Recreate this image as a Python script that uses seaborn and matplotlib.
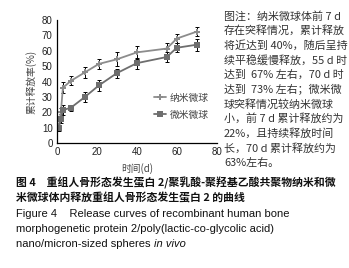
# Release curves of rhBMP-2/PLGA nano and micro spheres in vivo
import pandas as pd
import numpy as np
import matplotlib
matplotlib.use('Agg')
import matplotlib.pyplot as plt
import seaborn as sns

# values
days = [1, 2, 3, 7, 14, 21, 30, 40, 55, 60, 70]
nano = [11, 20, 36, 40.5, 46, 51.5, 54.5, 59, 61.5, 68, 72.5]
nano_err = [2, 3, 3.5, 3, 3.5, 3.5, 4.5, 4, 3.5, 3, 3]
micro = [10, 16, 21.5, 23, 30, 37.5, 45.5, 52, 56, 62, 64]
micro_err = [2, 3, 3, 2, 3.5, 3.5, 3, 3.5, 3.5, 3, 4]
series_names = ['纳米微球', '微米微球']

note_lines = [
    '图注：纳米微球体前 7 d',
    '存在突释情况，累计释放',
    '将近达到 40%，随后呈持',
    '续平稳缓慢释放，55 d 时',
    '达到  67% 左右，70 d 时',
    '达到  73% 左右；微米微',
    '球突释情况较纳米微球',
    '小，前 7 d 累计释放约为',
    '22%，且持续释放时间',
    '长，70 d 累计释放约为',
    '63%左右。',
]

cjk = ['Noto Sans CJK SC', 'DejaVu Sans']
latin = ['Liberation Sans', 'DejaVu Sans']

sns.set_style('white')
plt.rcParams['font.family'] = cjk

df = pd.DataFrame({
    'day': days * 2,
    'value': nano + micro,
    'group': [series_names[0]] * len(days) + [series_names[1]] * len(days),
})

fig = plt.figure(figsize=(3.49, 2.68), dpi=100)
ax = fig.add_axes([0.163, 0.466, 0.458, 0.459])

palette = {series_names[0]: '#8c8c8c', series_names[1]: '#6e6e6e'}
sns.lineplot(data=df, x='day', y='value', hue='group', style='group',
             markers={series_names[0]: 'P', series_names[1]: 's'}, dashes=False,
             palette=palette, markersize=4.5, markeredgewidth=0, linewidth=1.3,
             ax=ax)
ax.errorbar(days, nano, yerr=nano_err, fmt='none', ecolor='black',
            elinewidth=0.7, capsize=1.5, capthick=0.7, zorder=1)
ax.errorbar(days, micro, yerr=micro_err, fmt='none', ecolor='black',
            elinewidth=0.7, capsize=1.5, capthick=0.7, zorder=1)

ax.set_xlim(0, 80)
ax.set_ylim(0, 80)
ax.set_xticks(np.arange(0, 81, 20))
ax.set_yticks(np.arange(0, 81, 10))
ax.tick_params(axis='both', labelsize=7, length=0, pad=3)
for lab in ax.get_xticklabels() + ax.get_yticklabels():
    lab.set_family(latin)
    lab.set_color('#222222')
sns.despine(ax=ax)
ax.spines['left'].set_color('black')
ax.spines['bottom'].set_color('black')
ax.spines['left'].set_linewidth(0.9)
ax.spines['bottom'].set_linewidth(0.9)
ax.set_xlabel('时间(d)', fontsize=7, color='#444444', labelpad=4)
ax.set_ylabel('累计释放率(%)', fontsize=7, color='#444444', labelpad=4)

ax.legend(loc='center left', bbox_to_anchor=(0.55, 0.30), frameon=False,
          fontsize=7, handlelength=1.3, handletextpad=0.4, labelspacing=0.7,
          labelcolor='#444444')

# annotation block on the right
y0 = 268 - 16
for i, line in enumerate(note_lines):
    fig.text(224 / 349, (y0 - i * 14.7) / 268, line, fontsize=7.9,
             color='#333333', va='center', ha='left', family=cjk)

# caption
fig.text(16 / 349, (268 - 183) / 268,
         '图 4　重组人骨形态发生蛋白 2/聚乳酸-聚羟基乙酸共聚物纳米和微',
         fontsize=7.8, fontweight='bold', color='#111111', va='center', family=cjk)
fig.text(16 / 349, (268 - 198) / 268,
         '米微球体内释放重组人骨形态发生蛋白 2 的曲线',
         fontsize=7.8, fontweight='bold', color='#111111', va='center', family=cjk)
fig.text(16 / 349, (268 - 214) / 268,
         'Figure 4    Release curves of recombinant human bone',
         fontsize=8, color='#111111', va='center', family=latin)
fig.text(16 / 349, (268 - 229) / 268,
         'morphogenetic protein 2/poly(lactic-co-glycolic acid)',
         fontsize=8, color='#111111', va='center', family=latin)
t = fig.text(16 / 349, (268 - 244) / 268, 'nano/micron-sized spheres ',
             fontsize=8, color='#111111', va='center', family=latin)
fig.canvas.draw()
bb = t.get_window_extent()
fig.text(bb.x1 / fig.bbox.width, (268 - 244) / 268, 'in vivo',
         fontsize=8, style='italic', color='#111111', va='center', family=latin)

fig.savefig('out.png', dpi=100)
